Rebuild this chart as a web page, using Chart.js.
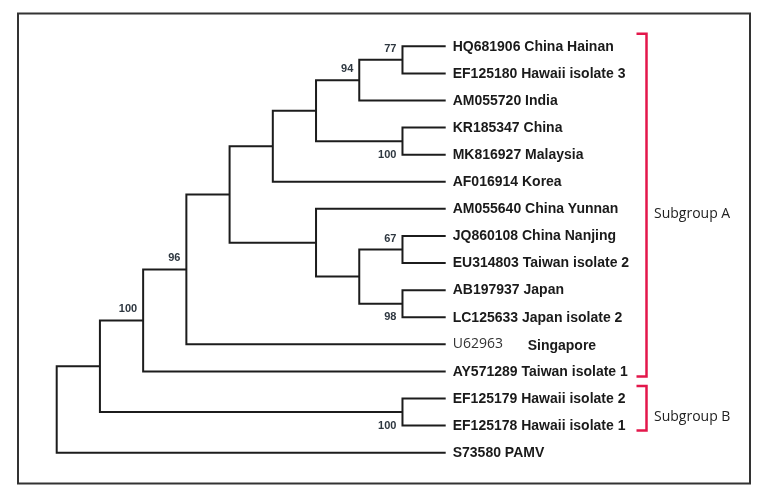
<!DOCTYPE html>
<html>
<head>
<meta charset="utf-8">
<script src="https://cdn.jsdelivr.net/npm/chart.js@4"></script>
<style>
  body { margin: 0; background: #fff; }
  canvas { display: block; }
</style>
</head>
<body>
<canvas id="arvore" width="765" height="496"></canvas>
<script>
// Taxa (leaf order, top to bottom)
const accessions = ['HQ681906', 'EF125180', 'AM055720', 'KR185347', 'MK816927', 'AF016914',
  'AM055640', 'JQ860108', 'EU314803', 'AB197937', 'LC125633', 'U62963', 'AY571289',
  'EF125179', 'EF125178', 'S73580'];
const origins = ['China Hainan', 'Hawaii isolate 3', 'India', 'China', 'Malaysia', 'Korea',
  'China Yunnan', 'China Nanjing', 'Taiwan isolate 2', 'Japan', 'Japan isolate 2', 'Singapore',
  'Taiwan isolate 1', 'Hawaii isolate 2', 'Hawaii isolate 1', 'PAMV'];

// Internal nodes: children are leaf indices (numbers) or 'nX' (internal node)
const nodeChildren = [
  ['n1', 15],     // n0 root
  ['n2', 'n14'],  // n1
  ['n3', 12],     // n2
  ['n4', 11],     // n3
  ['n5', 'n10'],  // n4
  ['n6', 5],      // n5
  ['n7', 'n9'],   // n6
  ['n8', 2],      // n7
  [0, 1],         // n8
  [3, 4],         // n9
  [6, 'n11'],     // n10
  ['n12', 'n13'], // n11
  [7, 8],         // n12
  [9, 10],        // n13
  [13, 14]        // n14
];
// Bootstrap support for each internal node
const support = [null, null, 100, 96, null, null, null, 94, 77, 100, null, null, 67, 98, 100];

// Subgroups: [label, first leaf, last leaf]
const subgroups = [['Subgroup A', 0, 12], ['Subgroup B', 13, 14]];

// --- calcula altura, nível e posição de cada nó ---
function isNode(c) { return typeof c === 'string'; }
function idx(c) { return parseInt(c.slice(1)); }

var heights = [];
function altura(i) {
    if (heights[i] !== undefined) return heights[i];
    var h = 0;
    nodeChildren[i].forEach(function (c) {
        var hc = isNode(c) ? altura(idx(c)) : 0;
        if (hc + 1 > h) h = hc + 1;
    });
    heights[i] = h;
    return h;
}
var maxH = altura(0);

var nodeY = [];
function posY(c) {
    if (!isNode(c)) return c;
    var i = idx(c);
    if (nodeY[i] !== undefined) return nodeY[i];
    var kids = nodeChildren[i];
    nodeY[i] = (posY(kids[0]) + posY(kids[kids.length - 1])) / 2;
    return nodeY[i];
}
function posX(c) {
    return isNode(c) ? maxH - altura(idx(c)) : maxH;
}

// quem é filho de cima / de baixo
var isUpper = [];
nodeChildren.forEach(function (kids) {
    kids.forEach(function (c, k) { if (isNode(c)) isUpper[idx(c)] = (k === 0); });
});

// um dataset (cotovelo) por nó interno
var datasets = nodeChildren.map(function (kids, i) {
    var x = posX('n' + i);
    var y1 = posY(kids[0]), y2 = posY(kids[1]);
    return {
        data: [
            { x: posX(kids[0]), y: y1 },
            { x: x, y: y1 },
            { x: x, y: y2 },
            { x: posX(kids[1]), y: y2 }
        ],
        showLine: true,
        borderColor: '#1c1c1c',
        borderWidth: 2,
        pointRadius: 0,
        tension: 0,
        clip: false
    };
});

// plugin para moldura, rótulos e colchetes
const rotulos = {
    id: 'rotulos',
    beforeDraw: function (chart) {
        var ctx = chart.ctx;
        ctx.save();
        ctx.fillStyle = '#fff';
        ctx.fillRect(0, 0, chart.width, chart.height);
        ctx.strokeStyle = '#333';
        ctx.lineWidth = 2;
        ctx.strokeRect(18, 13.5, 732, 470);
        ctx.restore();
    },
    afterDraw: function (chart) {
        var ctx = chart.ctx;
        var xs = chart.scales.x, ys = chart.scales.y;
        ctx.save();
        ctx.textBaseline = 'middle';

        // nomes das folhas
        var x0 = xs.getPixelForValue(maxH) + 7;
        accessions.forEach(function (acc, i) {
            var y = ys.getPixelForValue(i) + 0.5;
            ctx.textAlign = 'left';
            if (acc === 'U62963') {
                ctx.font = '14px "Open Sans"';
                ctx.fillStyle = '#333';
                ctx.fillText(acc, x0, y - 1);
                ctx.font = 'bold 14px "Liberation Sans", Arial';
                ctx.fillStyle = '#1a1a1a';
                ctx.fillText(origins[i], x0 + 75, y + 1);
            } else {
                ctx.font = 'bold 14px "Liberation Sans", Arial';
                ctx.fillStyle = '#1a1a1a';
                ctx.fillText(acc + ' ' + origins[i], x0, y);
            }
        });

        // valores de bootstrap
        ctx.font = 'bold 11px "Liberation Sans", Arial';
        ctx.fillStyle = '#2e3740';
        ctx.textAlign = 'right';
        support.forEach(function (s, i) {
            if (s === null) return;
            var px = xs.getPixelForValue(posX('n' + i)) - 6;
            var py = ys.getPixelForValue(posY('n' + i)) + (isUpper[i] ? -11 : 13.5);
            ctx.fillText(String(s), px, py);
        });

        // colchetes dos subgrupos
        ctx.strokeStyle = '#e3174b';
        ctx.lineWidth = 2.5;
        ctx.font = '14px "Open Sans"';
        ctx.fillStyle = '#222';
        ctx.textAlign = 'left';
        subgroups.forEach(function (g) {
            var top = ys.getPixelForValue(g[1]) - 12.5;
            var bot = ys.getPixelForValue(g[2]) + 5;
            var bx = 646.5;
            ctx.beginPath();
            ctx.moveTo(636.5, top);
            ctx.lineTo(bx, top);
            ctx.lineTo(bx, bot);
            ctx.lineTo(636.5, bot);
            ctx.stroke();
            ctx.fillText(g[0], 654, (top + bot) / 2 + 9);
        });
        ctx.restore();
    }
};

new Chart(document.getElementById('arvore').getContext('2d'), {
    type: 'scatter',
    data: { datasets: datasets },
    options: {
        responsive: false,
        animation: false,
        layout: { padding: { left: 56.7, right: 319.3, top: 46.3, bottom: 43.3 } },
        scales: {
            x: { type: 'linear', min: 0, max: maxH, display: false },
            y: { type: 'linear', min: 0, max: accessions.length - 1, reverse: true, display: false }
        },
        plugins: { legend: { display: false }, tooltip: { enabled: false } }
    },
    plugins: [rotulos]
});
</script>
</body>
</html>
